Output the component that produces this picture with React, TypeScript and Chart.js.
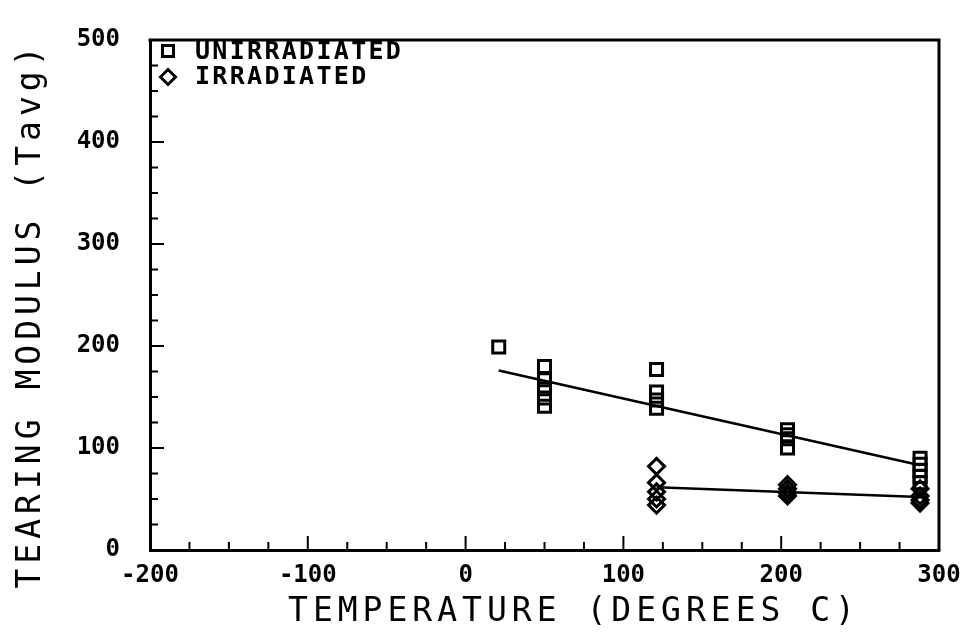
import React, { useEffect, useRef } from "react";
import { Chart, registerables } from "chart.js";

Chart.register(...registerables);

const unirrTemps = [21, 50, 50, 50, 50, 50, 121, 121, 121, 121, 204, 204, 204, 204, 288, 288, 288, 288, 288];
const unirrValues = [199, 180, 167, 158, 149, 141, 177, 155, 147, 139, 118, 113, 109, 100, 90, 84, 78, 72, 66];

const irrTemps = [121, 121, 121, 121, 121, 204, 204, 204, 204, 288, 288, 288, 288];
const irrValues = [82, 66, 57, 50, 44, 64, 60, 56, 53, 60, 53, 49, 46];

const unirrFitTemps = [21, 288];
const unirrFitValues = [176, 83];
const irrFitTemps = [121, 288];
const irrFitValues = [61.5, 52];

const xTicks = [-200, -100, 0, 100, 200, 300];
const yTicks = [0, 100, 200, 300, 400, 500];

const legendLabels = ["UNIRRADIATED", "IRRADIATED"];
const xTitle = "TEMPERATURE (DEGREES C)";
const yTitle = "TEARING MODULUS (Tavg)";

const toPoints = (xs: number[], ys: number[]) => xs.map((x, i) => ({ x, y: ys[i] }));

const framePlugin = {
  id: "frame",
  afterDraw(chart: any) {
    const ctx = chart.ctx as CanvasRenderingContext2D;
    const { left, right, top, bottom } = chart.chartArea;
    const xs = chart.scales.x;
    const ys = chart.scales.y;
    ctx.save();
    ctx.strokeStyle = "#000";
    ctx.lineCap = "square";
    // top & right border
    ctx.lineWidth = 3;
    ctx.beginPath();
    ctx.moveTo(left, top);
    ctx.lineTo(right, top);
    ctx.lineTo(right, bottom);
    ctx.stroke();
    // inward ticks
    ctx.lineWidth = 2;
    ctx.lineCap = "butt";
    for (let v = -200; v <= 300; v += 25) {
      const px = xs.getPixelForValue(v);
      const len = v % 100 === 0 ? 14 : 8;
      ctx.beginPath();
      ctx.moveTo(px, bottom);
      ctx.lineTo(px, bottom - len);
      ctx.stroke();
    }
    for (let v = 0; v <= 500; v += 25) {
      const py = ys.getPixelForValue(v);
      const len = v % 100 === 0 ? 14 : 8;
      ctx.beginPath();
      ctx.moveTo(left, py);
      ctx.lineTo(left + len, py);
      ctx.stroke();
    }
    // legend
    ctx.lineWidth = 3;
    const lx = left + 18;
    ctx.strokeRect(lx - 5.5, 51 - 5.5, 11, 11);
    ctx.beginPath();
    ctx.moveTo(lx - 7.5, 77);
    ctx.lineTo(lx, 69.5);
    ctx.lineTo(lx + 7.5, 77);
    ctx.lineTo(lx, 84.5);
    ctx.closePath();
    ctx.stroke();
    ctx.fillStyle = "#000";
    ctx.textBaseline = "middle";
    ctx.textAlign = "left";
    ctx.font = "bold 25px 'DejaVu Sans Mono'";
    (ctx as any).letterSpacing = "2.3px";
    ctx.fillText(legendLabels[0], left + 45, 52);
    ctx.fillText(legendLabels[1], left + 45, 77);
    // axis titles
    ctx.font = "33px 'DejaVu Sans Mono'";
    (ctx as any).letterSpacing = "5px";
    ctx.textAlign = "center";
    ctx.fillText(xTitle, 574, 612);
    ctx.translate(31, 315);
    ctx.rotate(-Math.PI / 2);
    ctx.fillText(yTitle, 0, 0);
    ctx.restore();
  },
};

export default function App() {
  const ref = useRef<HTMLCanvasElement>(null);
  useEffect(() => {
    document.body.style.margin = "0";
    const tickFont = { family: "'DejaVu Sans Mono'", size: 24, weight: "bold" as const };
    const chart = new Chart(ref.current as HTMLCanvasElement, {
      type: "scatter",
      data: {
        datasets: [
          {
            label: legendLabels[0],
            data: toPoints(unirrTemps, unirrValues),
            pointStyle: "rect",
            pointRadius: 8.5,
            borderColor: "#000",
            backgroundColor: "rgba(255,255,255,0)",
            borderWidth: 3,
          },
          {
            label: legendLabels[1],
            data: toPoints(irrTemps, irrValues),
            pointStyle: "rectRot",
            pointRadius: 8,
            borderColor: "#000",
            backgroundColor: "rgba(255,255,255,0)",
            borderWidth: 3,
          },
          {
            label: "fit1",
            data: toPoints(unirrFitTemps, unirrFitValues),
            showLine: true,
            pointRadius: 0,
            borderColor: "#000",
            borderWidth: 2.5,
          },
          {
            label: "fit2",
            data: toPoints(irrFitTemps, irrFitValues),
            showLine: true,
            pointRadius: 0,
            borderColor: "#000",
            borderWidth: 2.5,
          },
        ],
      },
      options: {
        responsive: false,
        animation: false,
        events: [],
        layout: { padding: { left: 0, top: 40, right: 31, bottom: 0 } },
        plugins: { legend: { display: false }, tooltip: { enabled: false }, title: { display: false } },
        scales: {
          x: {
            type: "linear",
            min: -200,
            max: 300,
            afterFit: (s: any) => { s.height = 91; },
            afterBuildTicks: (s: any) => { s.ticks = xTicks.map((v) => ({ value: v })); },
            grid: { display: false },
            border: { display: true, color: "#000", width: 3 },
            ticks: { color: "#000", font: tickFont, padding: 3, maxRotation: 0 },
          },
          y: {
            type: "linear",
            min: 0,
            max: 500,
            afterFit: (s: any) => { s.width = 150; },
            afterBuildTicks: (s: any) => { s.ticks = yTicks.map((v) => ({ value: v })); },
            grid: { display: false },
            border: { display: true, color: "#000", width: 3 },
            ticks: { color: "#000", font: tickFont, padding: 22 },
          },
        },
      },
      plugins: [framePlugin],
    });
    return () => chart.destroy();
  }, []);
  return (
    <div style={{ width: 970, height: 641 }}>
      <canvas ref={ref} width={970} height={641} />
    </div>
  );
}
